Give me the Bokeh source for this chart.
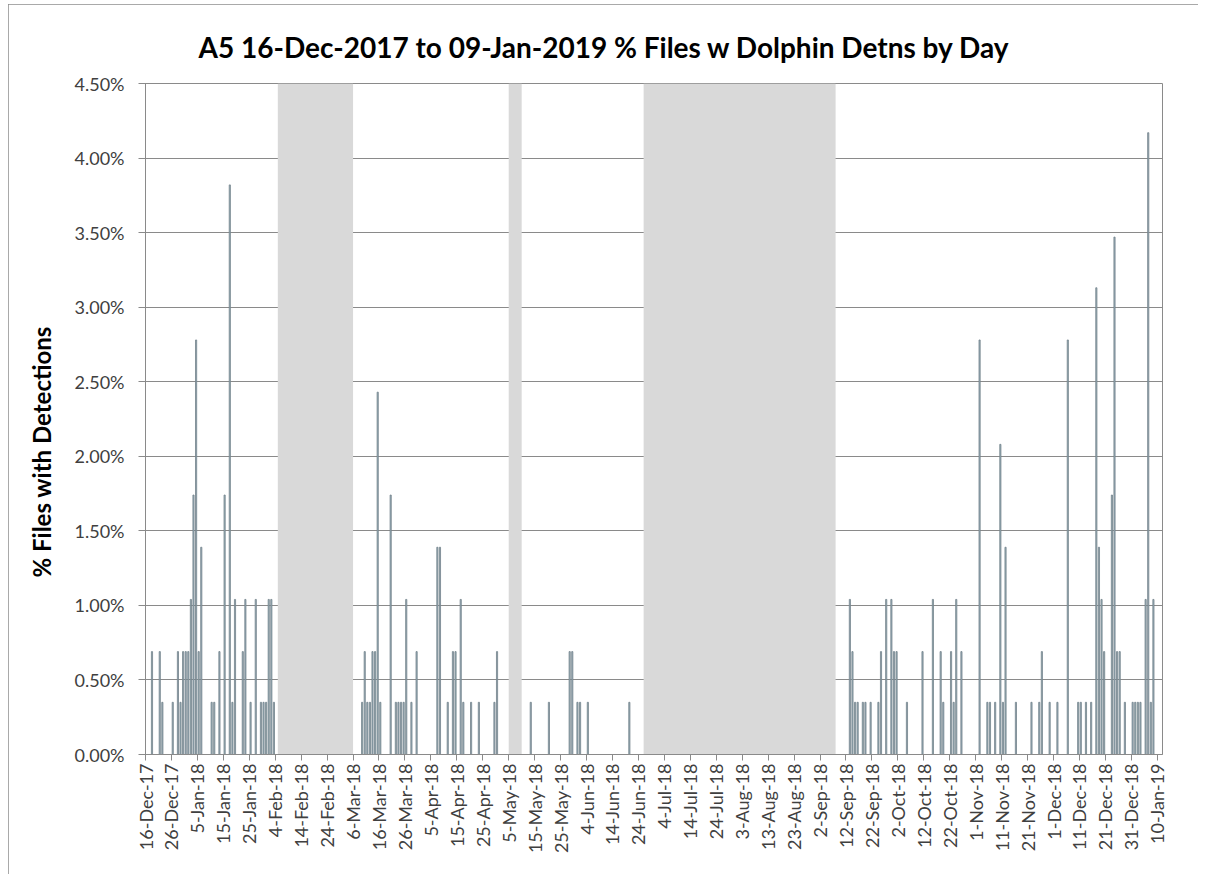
import math
import pandas as pd
from bokeh.plotting import figure
from bokeh.models import Range1d, FixedTicker, PrintfTickFormatter, Title, ColumnDataSource
from bokeh.embed import file_html
from bokeh.resources import INLINE

START = "2017-12-16"
AXIS_END_DAYS = 392
Y_MAX = 4.5

DET_DATES = [
    "2017-12-18", "2017-12-21", "2017-12-22", "2017-12-26", "2017-12-28", "2017-12-29",
    "2017-12-30", "2017-12-31", "2018-01-01", "2018-01-02", "2018-01-03", "2018-01-04",
    "2018-01-05", "2018-01-06", "2018-01-10", "2018-01-11", "2018-01-13", "2018-01-15",
    "2018-01-17", "2018-01-18", "2018-01-19", "2018-01-22", "2018-01-23", "2018-01-25",
    "2018-01-27", "2018-01-29", "2018-01-30", "2018-01-31", "2018-02-01", "2018-02-02",
    "2018-02-03",
    "2018-03-09", "2018-03-10", "2018-03-11", "2018-03-12", "2018-03-13", "2018-03-14",
    "2018-03-15", "2018-03-16", "2018-03-20", "2018-03-22", "2018-03-23", "2018-03-24",
    "2018-03-25", "2018-03-26", "2018-03-28", "2018-03-30", "2018-04-07", "2018-04-08",
    "2018-04-11", "2018-04-13", "2018-04-14", "2018-04-16", "2018-04-17", "2018-04-20",
    "2018-04-23", "2018-04-29", "2018-04-30",
    "2018-05-13", "2018-05-20", "2018-05-28", "2018-05-29", "2018-05-31", "2018-06-01",
    "2018-06-04", "2018-06-20",
    "2018-09-13", "2018-09-14", "2018-09-15", "2018-09-16", "2018-09-18", "2018-09-19",
    "2018-09-21", "2018-09-24", "2018-09-25", "2018-09-27", "2018-09-29", "2018-09-30",
    "2018-10-01", "2018-10-05", "2018-10-11", "2018-10-15", "2018-10-18", "2018-10-19",
    "2018-10-22", "2018-10-23", "2018-10-24", "2018-10-26", "2018-11-02", "2018-11-05",
    "2018-11-06", "2018-11-08", "2018-11-10", "2018-11-11", "2018-11-12", "2018-11-16",
    "2018-11-22", "2018-11-25", "2018-11-26", "2018-11-29", "2018-12-02", "2018-12-06",
    "2018-12-10", "2018-12-11", "2018-12-13", "2018-12-15", "2018-12-17", "2018-12-18",
    "2018-12-19", "2018-12-20", "2018-12-23", "2018-12-24", "2018-12-25", "2018-12-26",
    "2018-12-28", "2018-12-31", "2019-01-01", "2019-01-02", "2019-01-03", "2019-01-05",
    "2019-01-06", "2019-01-07", "2019-01-08",
]

DET_PCT = [
    0.69, 0.69, 0.35, 0.35, 0.69, 0.35,
    0.69, 0.69, 0.69, 1.04, 1.74, 2.78,
    0.69, 1.39, 0.35, 0.35, 0.69, 1.74,
    3.82, 0.35, 1.04, 0.69, 1.04, 0.35,
    1.04, 0.35, 0.35, 0.35, 1.04, 1.04,
    0.35,
    0.35, 0.69, 0.35, 0.35, 0.69, 0.69,
    2.43, 0.35, 1.74, 0.35, 0.35, 0.35,
    0.35, 1.04, 0.35, 0.69, 1.39, 1.39,
    0.35, 0.69, 0.69, 1.04, 0.35, 0.35,
    0.35, 0.35, 0.69,
    0.35, 0.35, 0.69, 0.69, 0.35, 0.35,
    0.35, 0.35,
    1.04, 0.69, 0.35, 0.35, 0.35, 0.35,
    0.35, 0.35, 0.69, 1.04, 1.04, 0.69,
    0.69, 0.35, 0.69, 1.04, 0.69, 0.35,
    0.69, 0.35, 1.04, 0.69, 2.78, 0.35,
    0.35, 0.35, 2.08, 0.35, 1.39, 0.35,
    0.35, 0.35, 0.69, 0.35, 0.35, 2.78,
    0.35, 0.35, 0.35, 0.35, 3.13, 1.39,
    1.04, 0.69, 1.74, 3.47, 0.69, 0.69,
    0.35, 0.35, 0.35, 0.35, 0.35, 1.04,
    4.17, 0.35, 1.04,
]

# periods without recordings (first and last day, inclusive)
GAP_FIRST = ["2018-02-05", "2018-05-05", "2018-06-26"]
GAP_LAST = ["2018-03-05", "2018-05-09", "2018-09-07"]

TICK_LABELS = [
    "16-Dec-17", "26-Dec-17", "5-Jan-18", "15-Jan-18", "25-Jan-18", "4-Feb-18",
    "14-Feb-18", "24-Feb-18", "6-Mar-18", "16-Mar-18", "26-Mar-18", "5-Apr-18",
    "15-Apr-18", "25-Apr-18", "5-May-18", "15-May-18", "25-May-18", "4-Jun-18",
    "14-Jun-18", "24-Jun-18", "4-Jul-18", "14-Jul-18", "24-Jul-18", "3-Aug-18",
    "13-Aug-18", "23-Aug-18", "2-Sep-18", "12-Sep-18", "22-Sep-18", "2-Oct-18",
    "12-Oct-18", "22-Oct-18", "1-Nov-18", "11-Nov-18", "21-Nov-18", "1-Dec-18",
    "11-Dec-18", "21-Dec-18", "31-Dec-18", "10-Jan-19",
]

Y_TICKS = [0, 0.5, 1.0, 1.5, 2.0, 2.5, 3.0, 3.5, 4.0, 4.5]

TITLE = "A5 16-Dec-2017 to 09-Jan-2019 % Files w Dolphin Detns by Day"
Y_TITLE = "% Files with Detections"

start = pd.Timestamp(START)


def day_of(d):
    return (pd.Timestamp(d) - start).days


bar_x = [day_of(d) + 0.5 for d in DET_DATES]
src = ColumnDataSource(dict(x=bar_x, pct=DET_PCT))

gap_src = ColumnDataSource(dict(
    left=[day_of(d) for d in GAP_FIRST],
    right=[day_of(d) + 1 for d in GAP_LAST],
    bottom=[0] * len(GAP_FIRST),
    top=[Y_MAX] * len(GAP_FIRST),
))

tick_days = [(pd.to_datetime(t, format="%d-%b-%y") - start).days for t in TICK_LABELS]

FONT = "Lato"
GRID = "#8a8a8a"

p = figure(
    width=1190, height=870,
    x_range=Range1d(0, AXIS_END_DAYS), y_range=Range1d(0, Y_MAX),
    output_backend="svg", toolbar_location=None,
    min_border_left=137, min_border_right=36, min_border_top=79, min_border_bottom=120,
    background_fill_color="white", border_fill_color="white",
)
p.styles = {"margin-left": "8px", "margin-top": "4px",
            "outline": "1px solid #8c8c8c", "outline-offset": "-1px"}

p.title.text = TITLE
p.title.align = "left"
p.title.offset = 53
p.title.standoff = 40
p.title.text_font = FONT
p.title.text_font_size = "28px"
p.title.text_font_style = "bold"
p.title.text_color = "black"

p.quad(left="left", right="right", bottom="bottom", top="top", source=gap_src,
       fill_color="#d9d9d9", line_color=None)
p.vbar(x="x", top="pct", bottom=0, width=0.45, source=src,
       fill_color="#9ab2bc", line_color="#72828a", line_width=0.8)

p.xgrid.visible = False
p.ygrid.ticker = FixedTicker(ticks=Y_TICKS)
p.ygrid.grid_line_color = GRID
p.ygrid.grid_line_width = 1
p.outline_line_color = GRID
p.outline_line_width = 1

# y axis
yax = p.yaxis[0]
yax.ticker = FixedTicker(ticks=Y_TICKS)
yax.formatter = PrintfTickFormatter(format="%.2f%%")
yax.axis_line_color = GRID
yax.major_tick_line_color = GRID
yax.major_tick_out = 7
yax.major_tick_in = 2
yax.minor_tick_line_color = None
yax.major_label_standoff = 14
yax.major_label_text_font = FONT
yax.major_label_text_font_size = "18px"
yax.major_label_text_color = "#404040"

ytitle = Title(text=Y_TITLE, align="left", offset=177, standoff=31,
               text_font=FONT, text_font_size="24px", text_font_style="bold",
               text_color="black")
p.add_layout(ytitle, "left")

# x axis
xax = p.xaxis[0]
xax.ticker = FixedTicker(ticks=tick_days)
xax.major_label_overrides = {d: t for d, t in zip(tick_days, TICK_LABELS)}
xax.major_label_orientation = math.pi / 2
xax.axis_line_color = GRID
xax.major_tick_line_color = GRID
xax.major_tick_out = 6
xax.major_tick_in = 0
xax.minor_tick_line_color = None
xax.major_label_standoff = 3
xax.major_label_text_font = FONT
xax.major_label_text_font_size = "18px"
xax.major_label_text_color = "#404040"

open("out.html", "w").write(file_html(p, INLINE))
